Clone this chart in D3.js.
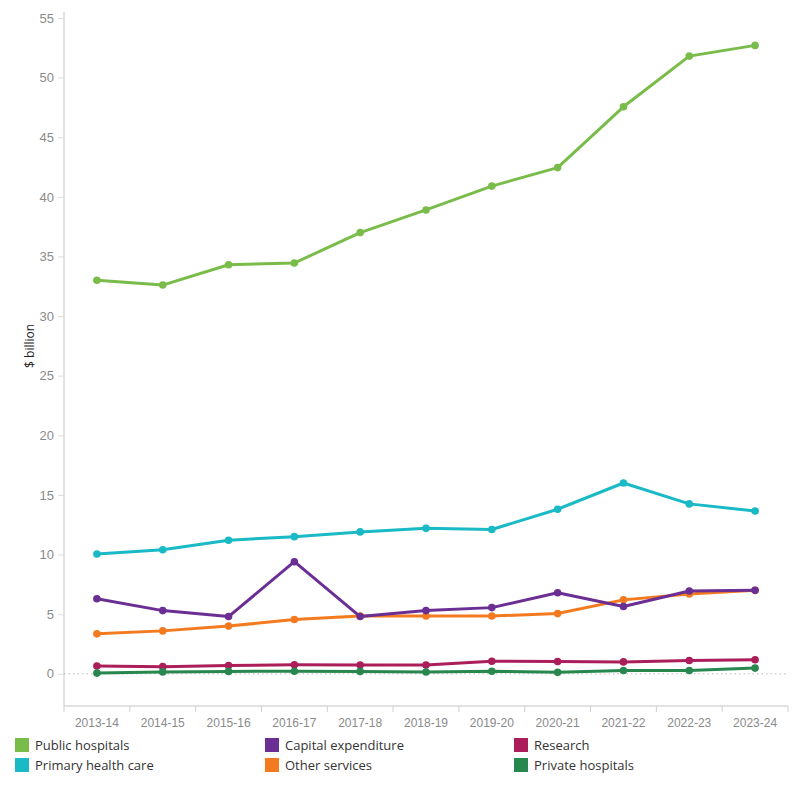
<!DOCTYPE html>
<html>
<head>
<meta charset="utf-8">
<script src="https://cdn.jsdelivr.net/npm/d3@7"></script>
<style>
  body { margin: 0; background: #fff; }
  svg { display: block; font-family: "Open Sans", "Noto Sans", sans-serif; }
</style>
</head>
<body>
<svg id="chart" width="800" height="800"></svg>
<script>
const years = ["2013-14","2014-15","2015-16","2016-17","2017-18","2018-19","2019-20","2020-21","2021-22","2022-23","2023-24"];
const yTicks = [0,5,10,15,20,25,30,35,40,45,50,55];

const publicHospitals = [33.0, 32.6, 34.3, 34.45, 37.0, 38.9, 40.9, 42.45, 47.55, 51.8, 52.7];
const primaryHealthCare = [10.05, 10.4, 11.2, 11.5, 11.9, 12.2, 12.1, 13.8, 16.0, 14.25, 13.65];
const capitalExpenditure = [6.3, 5.3, 4.8, 9.4, 4.8, 5.3, 5.55, 6.8, 5.65, 6.95, 7.0];
const otherServices = [3.35, 3.6, 4.0, 4.55, 4.85, 4.85, 4.85, 5.05, 6.2, 6.7, 7.0];
const research = [0.65, 0.6, 0.7, 0.75, 0.73, 0.73, 1.05, 1.03, 1.0, 1.12, 1.18];
const privateHospitals = [0.06, 0.16, 0.2, 0.22, 0.2, 0.15, 0.22, 0.12, 0.28, 0.28, 0.48];

const seriesNames = ["Public hospitals","Primary health care","Capital expenditure","Other services","Research","Private hospitals"];
const seriesColors = ["#79bc4a","#19b9c6","#6b2e93","#f47a20","#ab1e5a","#27874e"];
const seriesValues = [publicHospitals, primaryHealthCare, capitalExpenditure, otherServices, research, privateHospitals];
// draw order (back to front) and legend order
const drawOrder = [0, 1, 3, 2, 4, 5];
const legendOrder = [0, 2, 4, 1, 3, 5];

(function () {
const svg = d3.select("#chart");
const mLeft = 64, mRight = 788, mTop = 12, mBottom = 706;

const x = d3.scaleBand().domain(years).range([mLeft, mRight]);
const y = d3.scaleLinear().domain([-2.7, 55.5]).range([mBottom, mTop]);

// Y axis
const yAxis = svg.append("g").attr("transform", `translate(${mLeft},0)`)
  .call(d3.axisLeft(y).tickValues(yTicks).tickSize(6).tickPadding(4));
yAxis.select(".domain").attr("d", `M0,${mTop}V${mBottom}`).attr("stroke", "#c4c4c4");
yAxis.selectAll(".tick line").attr("stroke", "#dcdcdc");
yAxis.selectAll(".tick text").attr("fill", "#8a8a8a").attr("font-size", 13);

// X axis
const xAxis = svg.append("g").attr("transform", `translate(0,${mBottom})`)
  .call(d3.axisBottom(x).tickSize(0).tickPadding(12));
xAxis.select(".domain").attr("d", `M${mLeft},0H${mRight}`).attr("stroke", "#c4c4c4");
xAxis.selectAll(".tick text").attr("fill", "#8a8a8a").attr("font-size", 12);
xAxis.selectAll(".sep").data(years).enter().append("line")
  .attr("x1", d => x(d)).attr("x2", d => x(d)).attr("y1", 0).attr("y2", 6)
  .attr("stroke", "#d0d0d0");
xAxis.append("line").attr("x1", mRight).attr("x2", mRight).attr("y1", 0).attr("y2", 6).attr("stroke", "#d0d0d0");

// Y title
svg.append("text")
  .attr("transform", `translate(34,${y(27.5)}) rotate(-90)`)
  .attr("text-anchor", "middle").attr("font-size", 12).attr("fill", "#222")
  .text("$ billion");

// zero reference line
svg.append("line")
  .attr("x1", mLeft).attr("x2", mRight).attr("y1", y(0)).attr("y2", y(0))
  .attr("stroke", "#bdbdbd").attr("stroke-dasharray", "1.5,3");

const cx = d => x(d) + x.bandwidth() / 2;
const line = d3.line().x((d, i) => cx(years[i])).y(d => y(d));

drawOrder.forEach(si => {
  const g = svg.append("g");
  g.append("path").datum(seriesValues[si])
    .attr("d", line).attr("fill", "none")
    .attr("stroke", seriesColors[si]).attr("stroke-width", 3)
    .attr("stroke-linejoin", "round");
  g.selectAll("circle").data(seriesValues[si]).enter().append("circle")
    .attr("cx", (d, i) => cx(years[i])).attr("cy", d => y(d)).attr("r", 3.8)
    .attr("fill", seriesColors[si]);
});

// Legend
const legCols = [15, 265, 514];
const legRows = [745, 765];
legendOrder.forEach((si, k) => {
  const col = k % 3, row = Math.floor(k / 3);
  const g = svg.append("g").attr("transform", `translate(${legCols[col]},${legRows[row]})`);
  g.append("rect").attr("x", 0).attr("y", -7).attr("width", 14).attr("height", 14).attr("fill", seriesColors[si]);
  g.append("text").attr("x", 20).attr("y", 0).attr("dy", "0.35em")
    .attr("font-size", 13).attr("fill", "#333").text(seriesNames[si]);
});
})();
</script>
</body>
</html>
